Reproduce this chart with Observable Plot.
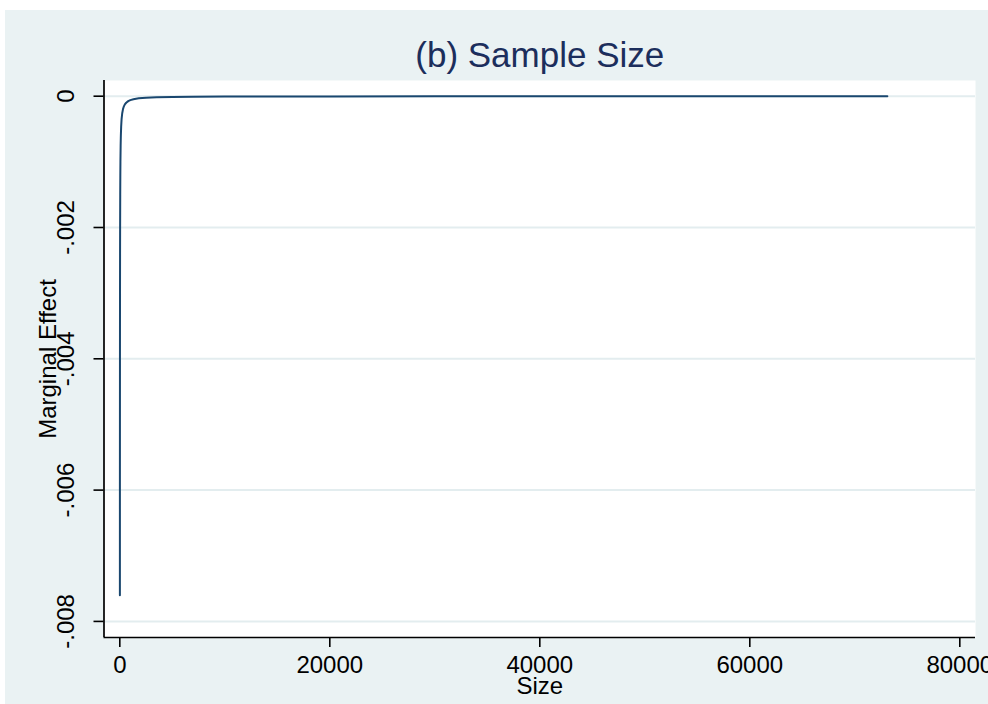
<!DOCTYPE html>
<html><head><meta charset="utf-8">
<script src="https://cdn.jsdelivr.net/npm/d3@7"></script>
<script src="https://cdn.jsdelivr.net/npm/@observablehq/plot@0.6"></script>
<style>
html,body{margin:0;padding:0;background:#fff;}
#wrap{position:relative;width:988px;height:704px;overflow:hidden;}
#bg{position:absolute;left:5px;top:10px;right:0;bottom:0;background:#EAF2F3;}
#chart{position:absolute;left:0;top:0;}
</style></head><body>
<div id="wrap"><div id="bg"></div><div id="chart"></div></div>
<script>
const titleText = "(b) Sample Size";
const xLabel = "Size";
const yLabel = "Marginal Effect";
const sizes = [8, 10, 12, 15, 20, 25, 30, 40, 50, 60, 80, 100, 130, 170, 230, 300, 380, 480, 610, 800, 1000, 1300, 1800, 2500, 3500, 5000, 7000, 10000, 15000, 20000, 30000, 40000, 50000, 60000, 73100];
const effects = [-0.0076, -0.0060, -0.0050, -0.0040, -0.0030, -0.0024, -0.0020, -0.0015, -0.0012, -0.0010, -0.00075, -0.0006, -0.00046, -0.00035, -0.00026, -0.0002, -0.000158, -0.000125, -0.0001, -0.000075, -0.00006, -0.000046, -0.000033, -0.000024, -0.000017, -0.000012, -0.0000086, -0.000006, -0.000004, -0.000003, -0.000002, -0.0000015, -0.0000012, -0.000001, -0.0000008];
const xTicks = [0, 20000, 40000, 60000, 80000];
const xTickLabels = ["0", "20000", "40000", "60000", "80000"];
const yTicks = [0, -0.002, -0.004, -0.006, -0.008];
const yTickLabels = ["0", "-.002", "-.004", "-.006", "-.008"];

const data = sizes.map((s, i) => ({size: s, effect: effects[i]}));
const xDomain = [-1505, 81495];
const yDomain = [-0.008245, 0.000239];
const font = "'Liberation Sans', Arial, Helvetica, sans-serif";

const chart = Plot.plot({
  width: 988, height: 704,
  marginLeft: 103.5, marginRight: 13, marginTop: 80, marginBottom: 67,
  style: {background: "transparent", fontFamily: font, color: "black"},
  x: {domain: xDomain},
  y: {domain: yDomain},
  marks: [
    Plot.frame({fill: "white"}),
    Plot.gridY(yTicks, {stroke: "#E3EDEF", strokeOpacity: 1, strokeWidth: 2}),
    Plot.line(data, {x: "size", y: "effect", stroke: "#1a476f", strokeWidth: 2}),
    Plot.axisX(xTicks, {tickSize: 10, tickPadding: 8, fontSize: 24, strokeWidth: 1.6, label: null,
      tickFormat: d => xTickLabels[xTicks.indexOf(d)]}),
    Plot.axisY(yTicks, {tickSize: 10, tickPadding: 20, tickRotate: -90, fontSize: 24, strokeWidth: 1.6, label: null,
      tickFormat: d => yTickLabels[yTicks.indexOf(d)]}),
    Plot.ruleX([xDomain[0]], {stroke: "black", strokeWidth: 1.7}),
    Plot.ruleY([yDomain[0]], {stroke: "black", strokeWidth: 1.7}),
    Plot.text([titleText], {text: d => d, frameAnchor: "top", dy: -24.5, textAnchor: "middle", lineAnchor: "middle", fontSize: 35, fill: "#1c2e5c"}),
    Plot.text([xLabel], {text: d => d, frameAnchor: "bottom", dy: 49, textAnchor: "middle", lineAnchor: "middle", fontSize: 24, fill: "black"}),
    Plot.text([yLabel], {text: d => d, frameAnchor: "left", dx: -56, rotate: -90, textAnchor: "middle", lineAnchor: "middle", fontSize: 24, fill: "black"})
  ]
});
document.getElementById("chart").appendChild(chart);
</script>
</body></html>
